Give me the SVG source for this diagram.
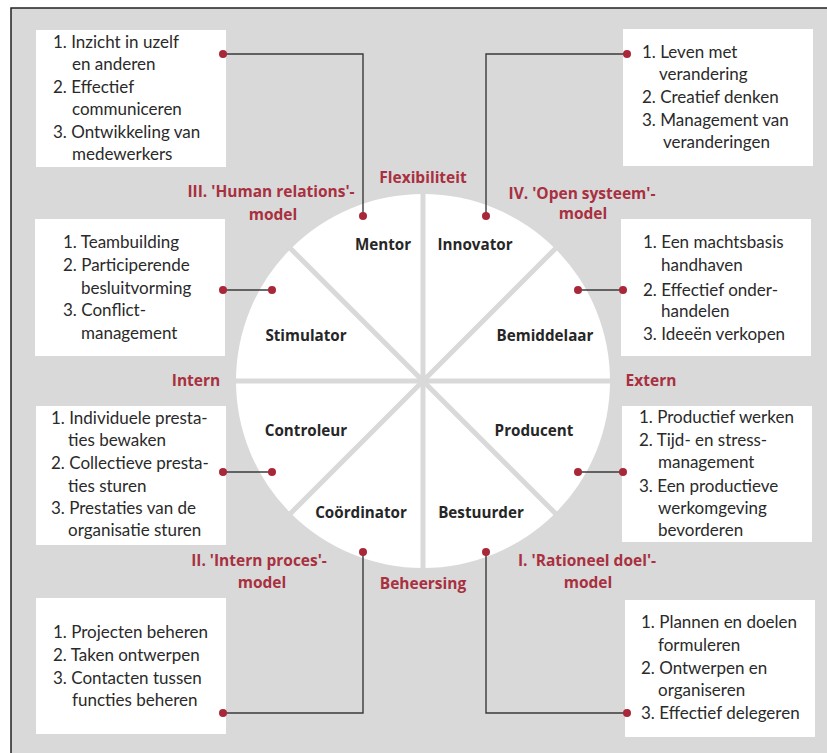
<svg xmlns="http://www.w3.org/2000/svg" width="827" height="753" viewBox="0 0 827 753">
<defs>
<style>
.frame{fill:#d9d9d9;stroke:#222;stroke-width:1.5}
.box{fill:#fff}
.t{font-family:Lato,"Noto Sans",sans-serif;font-size:17px;fill:#2a2a2a}
.role{font-family:"Open Sans","Noto Sans",sans-serif;font-size:15.2px;font-weight:bold;fill:#262626;text-anchor:middle}
.red{font-family:"Open Sans","Noto Sans",sans-serif;font-size:15.5px;font-weight:bold;fill:#a8303f;text-anchor:middle}
.spoke{stroke:#d9d9d9;stroke-width:5}
.con{fill:none;stroke:#3a3a3a;stroke-width:1.4}
.dot{fill:#a8283a}
</style>
</defs>
<rect class="frame" x="11" y="8" width="830" height="760"/>
<g id="wheel">
<circle cx="423" cy="381" r="187" fill="#fff"/>
<line class="spoke" x1="423" y1="190" x2="423" y2="572"/>
<line class="spoke" x1="232" y1="381" x2="614" y2="381"/>
<line class="spoke" x1="288" y1="246" x2="558" y2="516"/>
<line class="spoke" x1="558" y1="246" x2="288" y2="516"/>
<text class="role" x="383" y="250">Mentor</text>
<text class="role" x="475" y="250">Innovator</text>
<text class="role" x="306" y="341">Stimulator</text>
<text class="role" x="545" y="341">Bemiddelaar</text>
<text class="role" x="306" y="436">Controleur</text>
<text class="role" x="534" y="436">Producent</text>
<text class="role" x="361" y="518">Coördinator</text>
<text class="role" x="481" y="518">Bestuurder</text>
</g>
<g id="axis-labels">
<text class="red" x="423" y="183">Flexibiliteit</text>
<text class="red" x="423" y="589">Beheersing</text>
<text class="red" x="196" y="386">Intern</text>
<text class="red" x="651" y="386">Extern</text>
<text class="red" x="271" y="197">III. 'Human relations'-</text>
<text class="red" x="273" y="220">model</text>
<text class="red" x="582" y="199">IV. 'Open systeem'-</text>
<text class="red" x="583" y="219">model</text>
<text class="red" x="259" y="566">II. 'Intern proces'-</text>
<text class="red" x="262" y="588">model</text>
<text class="red" x="587" y="566">I. 'Rationeel doel'-</text>
<text class="red" x="588" y="588">model</text>
</g>
<g id="box-mentor">
<rect class="box" x="36" y="30" width="190" height="137"/>
<text class="t" x="53" y="48">1. Inzicht in uzelf</text>
<text class="t" x="72" y="70">en anderen</text>
<text class="t" x="53" y="93">2. Effectief</text>
<text class="t" x="72" y="115">communiceren</text>
<text class="t" x="53" y="138">3. Ontwikkeling van</text>
<text class="t" x="72" y="160">medewerkers</text>
</g>
<g id="box-innovator">
<rect class="box" x="623" y="29" width="190" height="137"/>
<text class="t" x="642" y="58">1. Leven met</text>
<text class="t" x="659" y="80">verandering</text>
<text class="t" x="642" y="103">2. Creatief denken</text>
<text class="t" x="642" y="126">3. Management van</text>
<text class="t" x="663" y="148">veranderingen</text>
</g>
<g id="box-stimulator">
<rect class="box" x="35" y="219" width="190" height="137"/>
<text class="t" x="63" y="248">1. Teambuilding</text>
<text class="t" x="63" y="271">2. Participerende</text>
<text class="t" x="81" y="294">besluitvorming</text>
<text class="t" x="63" y="316">3. Conflict-</text>
<text class="t" x="81" y="339">management</text>
</g>
<g id="box-bemiddelaar">
<rect class="box" x="621" y="219" width="190" height="137"/>
<text class="t" x="643" y="248">1. Een machtsbasis</text>
<text class="t" x="661" y="271">handhaven</text>
<text class="t" x="643" y="296">2. Effectief onder-</text>
<text class="t" x="661" y="317">handelen</text>
<text class="t" x="643" y="340">3. Ideeën verkopen</text>
</g>
<g id="box-controleur">
<rect class="box" x="36" y="406" width="190" height="139"/>
<text class="t" x="51" y="424">1. Individuele presta-</text>
<text class="t" x="68" y="446">ties bewaken</text>
<text class="t" x="51" y="469">2. Collectieve presta-</text>
<text class="t" x="68" y="492">ties sturen</text>
<text class="t" x="51" y="514">3. Prestaties van de</text>
<text class="t" x="68" y="536">organisatie sturen</text>
</g>
<g id="box-producent">
<rect class="box" x="622" y="406" width="190" height="136"/>
<text class="t" x="639" y="423">1. Productief werken</text>
<text class="t" x="639" y="446">2. Tijd- en stress-</text>
<text class="t" x="658" y="468">management</text>
<text class="t" x="639" y="492">3. Een productieve</text>
<text class="t" x="658" y="514">werkomgeving</text>
<text class="t" x="658" y="536">bevorderen</text>
</g>
<g id="box-coordinator">
<rect class="box" x="36" y="598" width="190" height="136"/>
<text class="t" x="53" y="638">1. Projecten beheren</text>
<text class="t" x="53" y="661">2. Taken ontwerpen</text>
<text class="t" x="53" y="684">3. Contacten tussen</text>
<text class="t" x="72" y="706">functies beheren</text>
</g>
<g id="box-bestuurder">
<rect class="box" x="625" y="600" width="190" height="137"/>
<text class="t" x="641" y="628">1. Plannen en doelen</text>
<text class="t" x="658" y="651">formuleren</text>
<text class="t" x="641" y="674">2. Ontwerpen en</text>
<text class="t" x="658" y="696">organiseren</text>
<text class="t" x="641" y="719">3. Effectief delegeren</text>
</g>
<g id="connectors">
<polyline class="con" points="223,54 363,54 363,216"/>
<polyline class="con" points="627,54 486,54 486,216"/>
<line class="con" x1="223" y1="290" x2="272" y2="290"/>
<line class="con" x1="578" y1="290" x2="623" y2="290"/>
<line class="con" x1="223" y1="472" x2="272" y2="472"/>
<line class="con" x1="578" y1="472" x2="623" y2="472"/>
<polyline class="con" points="223,713 363,713 363,552"/>
<polyline class="con" points="627,713 486,713 486,552"/>
<circle class="dot" cx="223" cy="54" r="4"/>
<circle class="dot" cx="363" cy="216" r="4"/>
<circle class="dot" cx="627" cy="54" r="4"/>
<circle class="dot" cx="486" cy="216" r="4"/>
<circle class="dot" cx="223" cy="290" r="4"/>
<circle class="dot" cx="272" cy="290" r="4"/>
<circle class="dot" cx="578" cy="290" r="4"/>
<circle class="dot" cx="623" cy="290" r="4"/>
<circle class="dot" cx="223" cy="472" r="4"/>
<circle class="dot" cx="272" cy="472" r="4"/>
<circle class="dot" cx="578" cy="472" r="4"/>
<circle class="dot" cx="623" cy="472" r="4"/>
<circle class="dot" cx="223" cy="713" r="4"/>
<circle class="dot" cx="363" cy="552" r="4"/>
<circle class="dot" cx="627" cy="713" r="4"/>
<circle class="dot" cx="486" cy="552" r="4"/>
</g>
</svg>
